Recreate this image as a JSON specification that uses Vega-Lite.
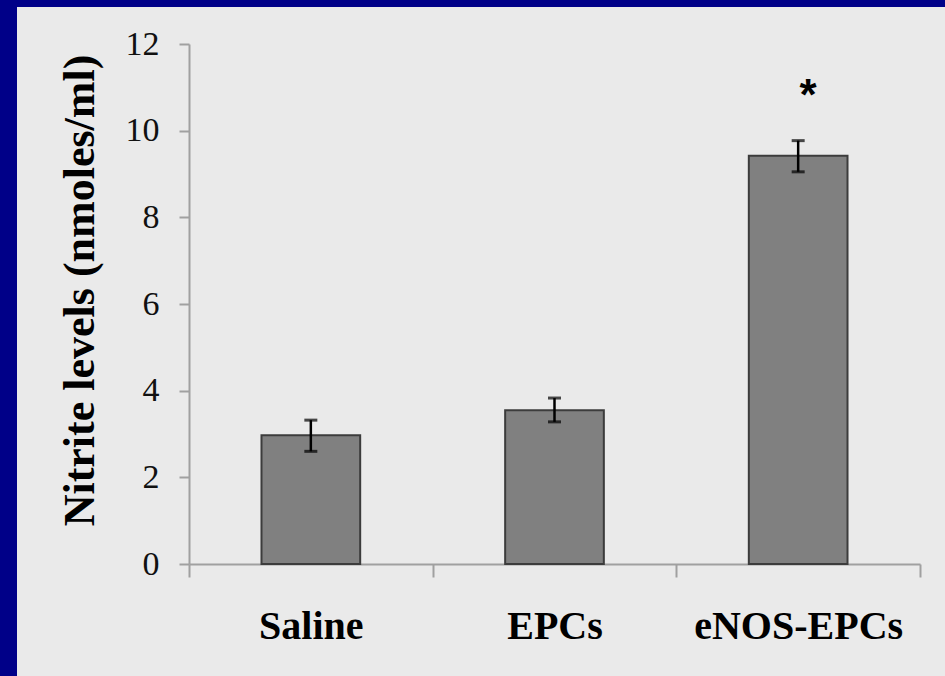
{
  "$schema": "https://vega.github.io/schema/vega-lite/v6.json",
  "width": 928,
  "height": 669,
  "autosize": {"type": "none"},
  "padding": {"left": 17, "top": 7, "right": 0, "bottom": 0},
  "background": "#000088",
  "config": {
    "view": {"fill": "#eaeaea", "stroke": null},
    "axis": {"grid": false, "domainColor": "#a0a0a0", "tickColor": "#a0a0a0", "domainWidth": 2, "tickWidth": 2}
  },
  "data": {
    "values": [
      {"group": "Saline", "mean": 2.97, "lo": 2.6, "hi": 3.32},
      {"group": "EPCs", "mean": 3.55, "lo": 3.28, "hi": 3.83},
      {"group": "eNOS-EPCs", "mean": 9.42, "lo": 9.05, "hi": 9.77, "sig": "*"}
    ]
  },
  "encoding": {
    "x": {
      "field": "group",
      "type": "nominal",
      "sort": null,
      "scale": {"range": [172, 903], "paddingInner": 0, "paddingOuter": 0},
      "axis": {
        "orient": "bottom",
        "offset": -112,
        "title": null,
        "tickBand": "extent",
        "tickSize": 13,
        "labelAngle": 0,
        "labelLimit": 0,
        "labelFont": "Liberation Serif",
        "labelFontWeight": "bold",
        "labelFontSize": 40,
        "labelColor": "#000000",
        "labelBaseline": "alphabetic",
        "labelPadding": 61
      }
    }
  },
  "layer": [
    {
      "mark": {"type": "bar", "width": {"band": 0.405}, "fill": "#808080", "stroke": "#3c3c3c", "strokeWidth": 2},
      "encoding": {
        "y": {
          "field": "mean",
          "type": "quantitative",
          "scale": {"domain": [0, 12], "range": [557, 37], "nice": false, "zero": true},
          "axis": {
            "orient": "left",
            "offset": -172,
            "values": [0, 2, 4, 6, 8, 10, 12],
            "format": "d",
            "tickSize": 10,
            "labelFont": "Liberation Serif",
            "labelFontSize": 34,
            "labelColor": "#111111",
            "labelPadding": 20,
            "title": "Nitrite levels (nmoles/ml)",
            "titleFont": "Liberation Serif",
            "titleFontWeight": "bold",
            "titleFontSize": 44,
            "titleColor": "#000000",
            "titleBaseline": "alphabetic",
            "titleX": -96,
            "titleY": 283
          }
        }
      }
    },
    {
      "mark": {"type": "rule", "color": "#000000", "strokeWidth": 2.5},
      "encoding": {
        "y": {"field": "lo", "type": "quantitative"},
        "y2": {"field": "hi"}
      }
    },
    {
      "mark": {"type": "tick", "color": "#000000", "size": 13, "thickness": 3, "orient": "horizontal"},
      "encoding": {"y": {"field": "lo", "type": "quantitative"}}
    },
    {
      "mark": {"type": "tick", "color": "#000000", "size": 13, "thickness": 3, "orient": "horizontal"},
      "encoding": {"y": {"field": "hi", "type": "quantitative"}}
    },
    {
      "transform": [{"filter": "datum.sig"}],
      "mark": {"type": "text", "font": "Liberation Sans", "fontWeight": "bold", "fontSize": 44, "color": "#000000", "baseline": "middle", "dx": 10, "dy": -44},
      "encoding": {
        "y": {"field": "hi", "type": "quantitative"},
        "text": {"field": "sig"}
      }
    }
  ]
}
